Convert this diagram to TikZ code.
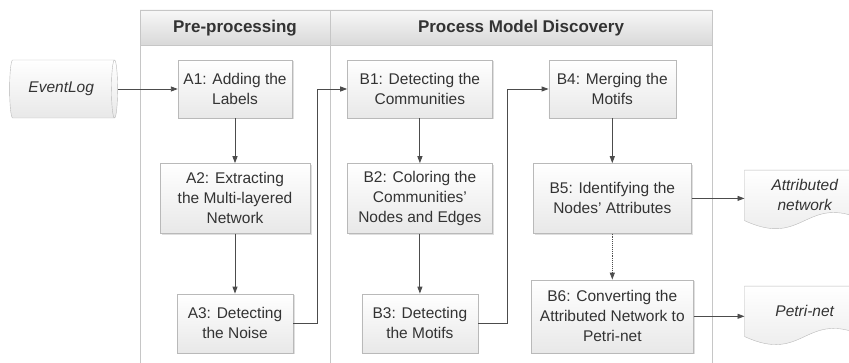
\documentclass[tikz,border=0pt]{standalone}
\usepackage{fontspec}
\setmainfont{Liberation Sans}
\usetikzlibrary{positioning, shapes.geometric, arrows.meta, shadows, backgrounds}

\tikzset{
	taskbox/.style={rectangle, draw=gray!55, top color=white, bottom color=gray!18,
		text=black!80, align=center, inner sep=2pt,
		font=\fontsize{15.5}{20}\selectfont,
		drop shadow={shadow xshift=1.5pt, shadow yshift=-1.5pt, opacity=0.25}},
	doctext/.style={rectangle, align=center, text=black!80, inner sep=0pt,
		font=\fontsize{15.5}{20}\selectfont\itshape, minimum width=120pt},
	docline/.style={draw=gray!55, top color=white, bottom color=gray!18},
	flow/.style={-{Triangle[length=7pt,width=5pt]}, draw=black!70, line width=0.9pt},
	lanehead/.style={font=\fontsize{17}{20}\selectfont\bfseries, text=black!80}
}

\begin{document}
\begin{tikzpicture}[x=1pt,y=1pt]
	\useasboundingbox (0,0) rectangle (849,362);
	% lanes
	\draw[gray!45] (140,-5) rectangle (712,352);
	\draw[gray!45] (330,-5) -- (330,352);
	\draw[draw=gray!45, top color=gray!6, bottom color=gray!30] (140,317) rectangle (712,352);
	\draw[gray!45] (330,317) -- (330,352);
	\node[lanehead] (hpre) at (235,334) {Pre-processing};
	\node[lanehead] (hpmd) at (521,334) {Process Model Discovery};

	% pre-processing
	\node[taskbox, minimum width=114pt, minimum height=58pt] (a1) at (235,273) {A1: Adding the\\Labels};
	\node[taskbox, minimum width=150pt, minimum height=70pt, below=45pt of a1] (a2) {A2: Extracting\\the Multi-layered\\Network};
	\node[taskbox, minimum width=116pt, minimum height=59pt, below=60pt of a2] (a3) {A3: Detecting\\the Noise};
	\node[cylinder, shape border rotate=0, aspect=0.3, draw=gray!55, top color=white, bottom color=gray!18,
		minimum width=58pt, minimum height=108pt, text=black!80,
		font=\fontsize{15.5}{20}\selectfont\itshape, left=60pt of a1] (evlog) {EventLog};

	% process model discovery
	\node[taskbox, minimum width=145pt, minimum height=58pt, right=55pt of a1] (b1) {B1: Detecting the\\Communities};
	\node[taskbox, minimum width=145pt, minimum height=70pt, below=45pt of b1] (b2) {B2: Coloring the\\Communities'\\Nodes and Edges};
	\node[taskbox, minimum width=116pt, minimum height=59pt, below=60pt of b2] (b3) {B3: Detecting\\the Motifs};
	\node[taskbox, minimum width=127pt, minimum height=58pt, right=56pt of b1] (b4) {B4: Merging the\\Motifs};
	\node[taskbox, minimum width=158pt, minimum height=70pt, below=45pt of b4] (b5) {B5: Identifying the\\Nodes' Attributes};
	\node[taskbox, minimum width=162pt, minimum height=73pt, below=46pt of b5] (b6) {B6: Converting the\\Attributed Network to\\Petri-net};

	% outputs
	\node[doctext, minimum height=50pt, right=53pt of b5, yshift=3pt] (attr) {Attributed\\network};
	\node[doctext, minimum height=50pt, right=51pt of b6, yshift=5pt] (petri) {Petri-net};
	\begin{scope}[on background layer]
		\draw[docline] (attr.south west) -- (attr.north west) -- (attr.north east) -- (attr.south east)
			.. controls +(-60pt,28pt) and +(60pt,-28pt) .. (attr.south west) -- cycle;
		\draw[docline] (petri.south west) -- (petri.north west) -- (petri.north east) -- (petri.south east)
			.. controls +(-60pt,28pt) and +(60pt,-28pt) .. (petri.south west) -- cycle;
	\end{scope}

	% connectors
	\draw[flow] (evlog) -- (a1);
	\draw[flow] (a1) -- (a2);
	\draw[flow] (a2) -- (a3);
	\draw[flow] (a3.east) -- ++(24pt,0) |- (b1.west);
	\draw[flow] (b1) -- (b2);
	\draw[flow] (b2) -- (b3);
	\draw[flow] (b3.east) -- ++(29pt,0) |- (b4.west);
	\draw[flow] (b4) -- (b5);
	\draw[flow, densely dotted] (b5) -- (b6);
	\draw[flow] (b5.east) -- (b5.east -| attr.west);
	\draw[flow] (b6.east) -- (b6.east -| petri.west);
\end{tikzpicture}
\end{document}
